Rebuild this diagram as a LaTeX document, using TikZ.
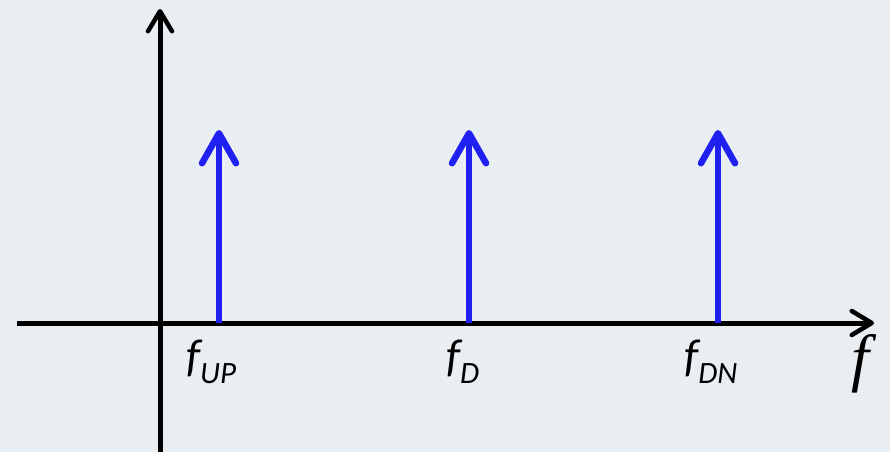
\documentclass[tikz,border=0pt]{standalone}
\usepackage{fontspec}
\setmainfont{Carlito}
\newfontfamily\serifit{Liberation Serif}
\usetikzlibrary{arrows.meta}
\definecolor{bgsky}{RGB}{233,238,242}
\definecolor{lineblue}{RGB}{32,32,240}
\tikzset{
  axisline/.style={line width=5pt, -{Straight Barb[length=20pt, width=24pt, line width=4.5pt, round]}},
  spike/.style={lineblue, line width=6.5pt, -{Straight Barb[length=30pt, width=34pt, line width=6.5pt, round]}},
  freqlabel/.style={font=\fontsize{46}{50}\selectfont\itshape, anchor=base west, inner sep=0pt}
}
\newcommand{\subfreq}[1]{\raisebox{-12pt}{\fontsize{31}{34}\selectfont #1}}
\begin{document}
\begin{tikzpicture}[x=1pt, y=-1pt]
  % background
  \fill[bgsky] (0,0) rectangle (890,452);
  \useasboundingbox (0,0) rectangle (890,452);

  % Axes
  \coordinate (xstart) at (17,323);
  \coordinate (xend) at (874,323);
  \coordinate (ystart) at (160,452);
  \coordinate (yend) at (160,9);
  \draw[axisline] (xstart) -- (xend);
  \draw[axisline] (ystart) -- (yend);

  % Spectral lines
  \foreach \name/\x in {up/219, d/469, dn/718} {
    \coordinate (\name base) at (\x,323);
    \coordinate (\name top) at (\x,130);
    \draw[spike] (\name base) -- (\name top);
  }

  % Labels
  \node[freqlabel] (lup) at (186,371) {f\subfreq{UP}};
  \node[freqlabel] (ld) at (446,371) {f\subfreq{D}};
  \node[freqlabel] (ldn) at (684,371) {f\subfreq{DN}};
  \node[font=\fontsize{64}{66}\serifit\itshape, anchor=base west, inner sep=0pt] (fax) at (851,379) {f};
\end{tikzpicture}
\end{document}
